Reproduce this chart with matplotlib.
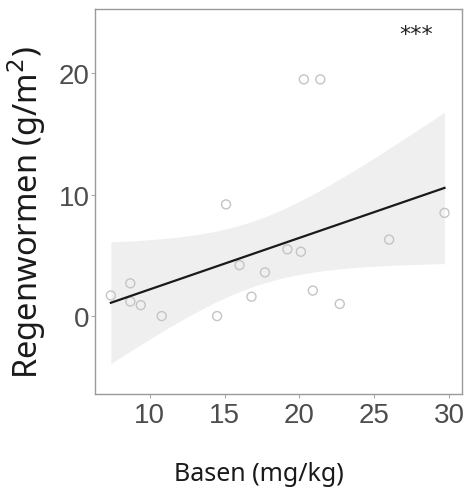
import numpy as np
import matplotlib
matplotlib.use("Agg")
import matplotlib.pyplot as plt

# Data
basen = [7.4, 8.7, 8.7, 9.4, 10.8, 14.5, 15.1, 16.0, 16.8, 17.7, 19.2, 20.1, 20.3, 21.4, 20.9, 22.7, 26.0, 29.7]
regenwormen = [1.7, 2.7, 1.2, 0.9, 0.0, 0.0, 9.2, 4.2, 1.6, 3.6, 5.5, 5.3, 19.5, 19.5, 2.1, 1.0, 6.3, 8.5]
xticks = [10, 15, 20, 25, 30]
yticks = [0, 10, 20]
signif = "***"

x = np.array(basen)
y = np.array(regenwormen)
n = len(x)
b, a = np.polyfit(x, y, 1)
xs = np.linspace(x.min(), x.max(), 100)
yhat = a + b * xs
resid = y - (a + b * x)
s = np.sqrt(np.sum(resid ** 2) / (n - 2))
sxx = np.sum((x - x.mean()) ** 2)
t = 2.12  # t(0.975, df=16)
se = s * np.sqrt(1.0 / n + (xs - x.mean()) ** 2 / sxx)

fig = plt.figure(figsize=(4.67, 4.89), dpi=100)
ax = fig.add_axes([0.2034, 0.1922, 0.7859, 0.7874])

ax.fill_between(xs, yhat - t * se, yhat + t * se, color="#efefef", lw=0, zorder=1)
ax.scatter(x, y, s=42, facecolors="none", edgecolors="#c4c4c4", linewidths=1.0, zorder=2)
ax.plot(xs, yhat, color="#1a1a1a", lw=1.6, zorder=3)

ax.set_xlim(6.34, 30.87)
ax.set_ylim(-6.42, 25.3)
ax.set_xticks(xticks)
ax.set_yticks(yticks)

for lab in ax.get_xticklabels() + ax.get_yticklabels():
    lab.set_fontfamily(["Liberation Sans", "DejaVu Sans"])
    lab.set_fontsize(20)
    lab.set_color("#4d4d4d")
ax.tick_params(axis="x", length=3, width=0.8, color="#aaaaaa", pad=3)
ax.tick_params(axis="y", length=3, width=0.8, color="#aaaaaa", pad=1)

for sp in ax.spines.values():
    sp.set_color("#9a9a9a")
    sp.set_linewidth(1.0)

ax.text(0.875, 0.935, signif, transform=ax.transAxes, ha="center", va="center",
        fontsize=16, color="#222222", family=["DejaVu Sans"])

fig.text(27 / 467, 1 - 213 / 489, "Regenwormen (g/m$^2$)", rotation=90, ha="center", va="center",
         fontsize=23.5, family=["Noto Sans", "DejaVu Sans"], color="#1a1a1a")
fig.text(259 / 467, 1 - 475 / 489, "Basen (mg/kg)", ha="center", va="center",
         fontsize=18, family=["Noto Sans", "DejaVu Sans"], color="#1a1a1a")

fig.savefig("out.png", dpi=100, facecolor="white")
